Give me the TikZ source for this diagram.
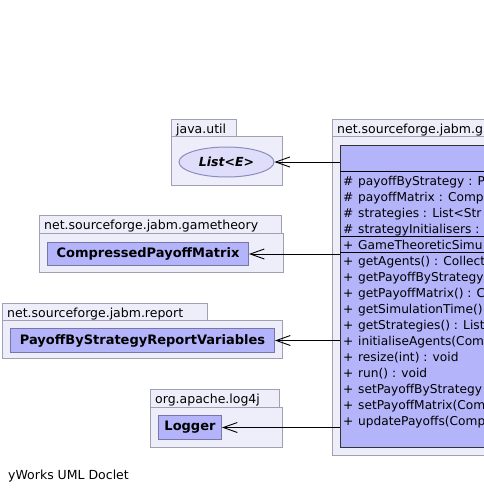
\documentclass[tikz,border=0pt]{standalone}
\usepackage{fontspec}
\setmainfont{DejaVu Sans}
\usetikzlibrary{arrows.meta,shapes.geometric}

\definecolor{pkgfill}{RGB}{238,238,250}
\definecolor{pkgline}{RGB}{160,160,178}
\definecolor{clsfill}{RGB}{180,180,250}
\definecolor{clsline}{RGB}{118,118,168}
\definecolor{ifacefill}{RGB}{222,222,250}
\definecolor{ifaceline}{RGB}{140,140,190}

\tikzset{
  pkg/.style={draw=pkgline, fill=pkgfill, line width=1pt},
  pkglabel/.style={anchor=base west, inner sep=0pt, font=\fontsize{12.5}{14}\selectfont},
  cls/.style={draw=clsline, fill=clsfill, line width=1pt, inner sep=0pt,
    anchor=north west, font=\fontsize{13}{15}\selectfont\bfseries},
  member/.style={anchor=base west, inner sep=0pt, font=\fontsize{12.2}{14}\selectfont},
  sep/.style={draw=black, line width=1pt},
  dep/.style={draw=black, line width=0.9pt, -{Straight Barb[length=14pt,width=10pt]}}
}

% package: tab box and body box
\newcommand{\umlpkg}[8]{%
  \draw[pkg] (#1,#2) rectangle (#3,#4);
  \draw[pkg] (#1,#4) rectangle (#5,#6);
  \node[pkglabel] (#8) at (#1+5,#2+14) {#7};
}
% class member line: visibility mark and signature
\newcommand{\umlmember}[4]{%
  \node[member] (#4) at (343,#1) {\makebox[15pt][l]{#2}#3};
}

\begin{document}
\begin{tikzpicture}[x=1pt,y=-1pt]
  \path[use as bounding box] (0,0) rectangle (484,493);
  \clip (0,0) rectangle (484,493);
  \fill[white] (0,0) rectangle (484,493);

  % packages
  \umlpkg{171}{119}{236}{136}{282}{185}{java.util}{pjava}
  \umlpkg{39}{215}{281}{233}{283}{272}{net.sourceforge.jabm.gametheory}{pgame}
  \umlpkg{2}{303}{207}{320}{282}{358}{net.sourceforge.jabm.report}{preport}
  \umlpkg{150}{389}{279}{407}{282}{447}{org.apache.log4j}{plog}
  \umlpkg{332}{119}{640}{136}{640}{455}{net.sourceforge.jabm.g}{pmain}

  % referenced types
  \node[ellipse, draw=ifaceline, fill=ifacefill, line width=1pt, inner sep=0pt,
        minimum width=95pt, minimum height=30pt,
        font=\fontsize{12.5}{14}\selectfont\bfseries\itshape] (list) at (226.5,162) {List<E>};
  \node[cls, minimum width=201pt, minimum height=23pt] (cpm) at (47,242) {CompressedPayoffMatrix};
  \node[cls, minimum width=264pt, minimum height=24pt] (pbs) at (10,328) {PayoffByStrategyReportVariables};
  \node[cls, minimum width=63pt, minimum height=24pt] (logger) at (158,415) {Logger};

  % main class
  \node[draw=black!80, fill=clsfill, line width=1pt, inner sep=0pt, anchor=north west,
        minimum width=300pt, minimum height=302pt] (sim) at (340,145) {};
  \draw[sep] (340,171) -- (640,171);
  \draw[sep] (340,236) -- (640,236);
  \draw[sep] (340,252) -- (640,252);

  \umlmember{185}{\#}{payoffByStrategy : P}{a1}
  \umlmember{201}{\#}{payoffMatrix : Compr}{a2}
  \umlmember{217}{\#}{strategies : List<Str}{a3}
  \umlmember{233}{\#}{strategyInitialisers :}{a4}
  \umlmember{249}{+}{GameTheoreticSimu}{c1}
  \umlmember{265}{+}{getAgents() : Collect}{m1}
  \umlmember{281}{+}{getPayoffByStrategy}{m2}
  \umlmember{297}{+}{getPayoffMatrix() : C}{m3}
  \umlmember{313}{+}{getSimulationTime()}{m4}
  \umlmember{329}{+}{getStrategies() : List}{m5}
  \umlmember{345}{+}{initialiseAgents(Com}{m6}
  \umlmember{361}{+}{resize(int) : void}{m7}
  \umlmember{377}{+}{run() : void}{m8}
  \umlmember{393}{+}{setPayoffByStrategy}{m9}
  \umlmember{409}{+}{setPayoffMatrix(Com}{m10}
  \umlmember{425}{+}{updatePayoffs(Comp}{m11}

  % dependencies
  \draw[dep] (sim.west |- list.east) -- (list.east);
  \draw[dep] (sim.west |- cpm.east) -- (cpm.east);
  \draw[dep] (sim.west |- pbs.east) -- (pbs.east);
  \draw[dep] (sim.west |- logger.east) -- (logger.east);

  \node[pkglabel] (credit) at (8,479) {yWorks UML Doclet};
\end{tikzpicture}
\end{document}
